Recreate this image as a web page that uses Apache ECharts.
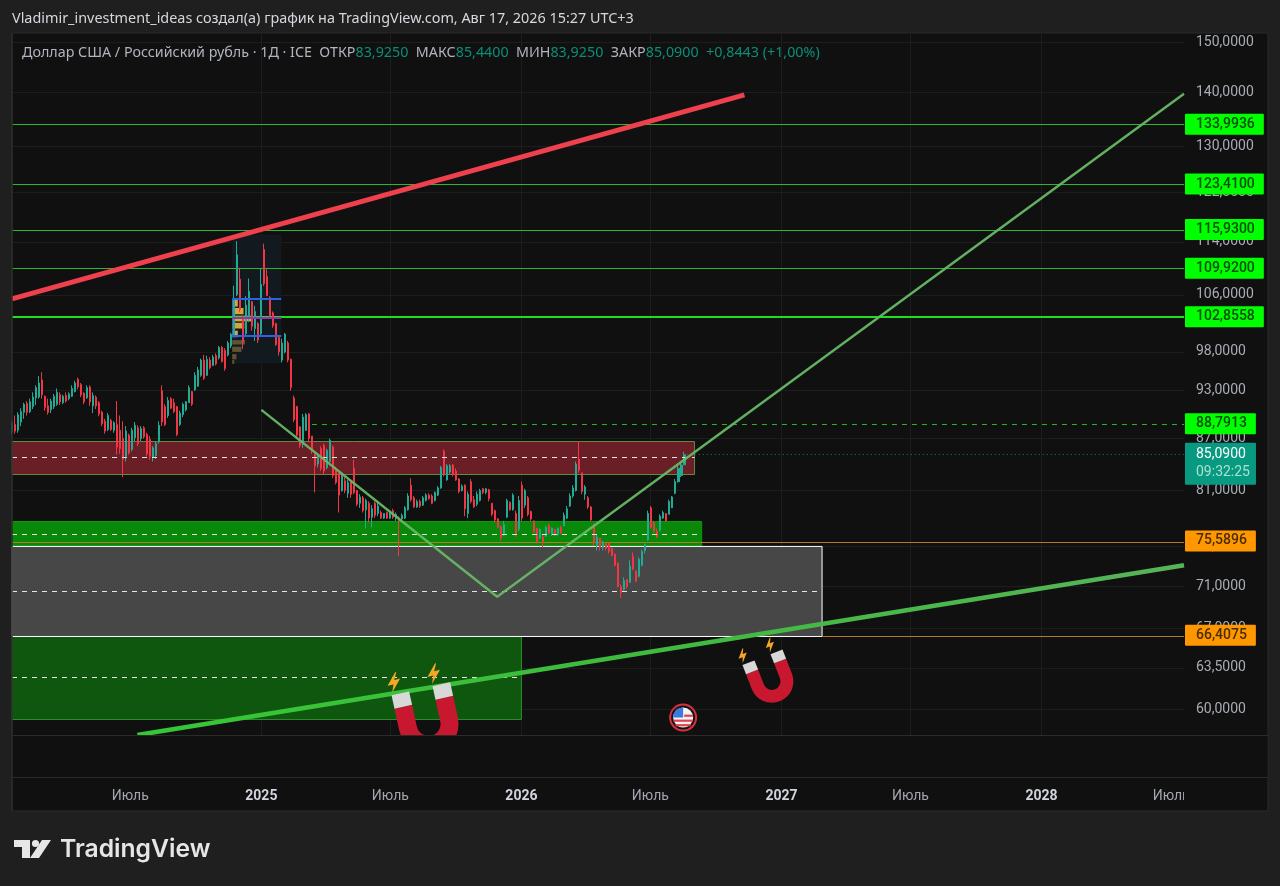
<!DOCTYPE html>
<html><head><meta charset="utf-8">
<style>html,body{margin:0;padding:0;background:#1f1f1f}#c{width:1280px;height:886px}</style>
<script src="https://cdn.jsdelivr.net/npm/echarts@6/dist/echarts.min.js"></script>
</head><body><div id="c"></div>
<script>
const headline = 'Vladimir_investment_ideas создал(а) график на TradingView.com, Авг 17, 2026 15:27 UTC+3';
const axisStart = '2024-01-17', axisEnd = '2028-07-19', zoneStart = '2023-12-20';
const priceMax = 151.87, priceMin = 57.9;
const priceTicks = [150,140,130,122,114,106,98,93,87,81,75,71,67,63.5,60];
const tickDates = ['2024-07-01','2025-01-01','2025-07-01','2026-01-01','2026-07-01','2027-01-01','2027-07-01','2028-01-01','2028-07-01'];
const tickLabels = ['Июль','2025','Июль','2026','Июль','2027','Июль','2028','Июль'];
const firstSession = '2024-01-17', sessionStepDays = 4.2117;
// open, close, low, high
const candles = [
[87.8,88.9,87.5,89.1],[88.7,87.9,87.6,89.8],[88.0,89.9,87.7,90.2],[89.0,90.3,88.5,90.7],[90.2,91.2,89.4,91.4],[91.3,90.2,89.8,91.6],[90.3,91.5,90.1,91.9],[90.9,92.1,90.6,92.7],[92.0,93.3,91.1,93.6],[92.1,93.9,91.9,94.8],
[94.3,92.4,91.9,95.3],[92.2,90.8,90.4,92.3],[91.0,90.2,89.9,91.9],[90.5,91.6,90.1,91.9],[90.9,92.2,90.6,92.5],[91.2,92.7,91.0,93.2],[92.4,91.5,91.1,92.7],[91.4,92.2,91.2,92.4],[92.3,91.6,91.4,92.7],[91.9,92.5,91.7,92.7],
[92.2,93.2,92.1,93.6],[92.8,93.9,92.7,94.2],[94.4,93.4,93.1,94.6],[93.7,92.4,92.1,93.9],[92.6,91.5,91.2,92.7],[92.0,93.3,91.9,93.6],[93.4,91.5,91.0,93.6],[91.0,92.3,90.1,92.7],[92.1,91.0,90.6,92.3],[91.4,90.0,89.7,91.6],
[90.2,88.8,88.5,90.4],[89.1,87.9,87.6,89.4],[88.1,89.8,87.9,90.1],[89.2,88.1,87.9,89.4],[88.0,88.9,87.7,89.1],[88.7,86.0,85.1,91.6],[88.0,85.8,85.2,89.8],[87.0,84.6,82.5,89.1],[84.9,87.9,84.3,88.5],[87.4,85.3,85.1,87.6],
[85.7,88.0,85.5,88.3],[87.1,88.6,86.7,89.0],[88.3,86.4,86.1,88.6],[87.0,88.2,86.7,88.5],[88.3,87.2,87.0,88.5],[87.5,85.2,84.9,87.7],[86.9,84.9,84.5,87.3],[84.8,85.9,84.3,86.1],[85.0,86.4,84.6,86.7],[86.6,88.6,86.4,89.1],
[92.9,89.0,88.5,93.6],[90.9,88.7,88.5,91.2],[89.8,91.7,89.5,92.1],[91.9,90.7,90.6,92.1],[91.4,90.3,90.1,91.9],[90.9,87.5,87.3,91.0],[88.7,90.1,88.5,90.4],[89.9,91.2,89.6,91.4],[90.5,91.5,90.3,91.6],[91.4,93.3,91.4,93.6],
[92.8,91.2,91.0,92.9],[93.0,94.9,92.9,95.3],[93.5,95.6,93.4,96.0],[94.9,96.9,94.7,97.1],[96.9,94.5,94.3,97.6],[94.9,97.0,94.8,97.5],[96.9,95.9,95.7,97.3],[96.2,97.3,96.1,97.6],[97.5,96.4,96.2,97.8],[97.2,98.6,97.0,98.8],
[98.6,96.7,96.6,98.8],[98.2,95.8,95.5,98.5],[97.6,99.2,97.4,99.5],[98.8,100.4,98.5,100.6],[100.3,105.5,100.2,107.3],[106,112,105.8,114.1],[108.3,103.9,103.5,110],[102.6,99.4,98.4,103],[100.5,104.5,100.2,105.8],[102.6,106.5,102.1,108.4],
[105,101.5,100.9,105.1],[101.2,103.6,99.5,104.4],[101.9,99.6,99.2,102.1],[100.5,107.5,100.2,109.9],[112.8,107.6,107.3,113.7],[108.7,105.9,105.8,109.8],[105.6,103.0,102.6,105.8],[103.4,101.6,101.3,103.6],[101.9,99.0,98.8,102.0],[100,98,97.5,100.2],
[96.9,99.2,96.6,99.8],[98,100.4,97.8,100.6],[99.2,96.9,96.6,99.5],[97,93.3,92.9,97.1],[92,89.3,89,92.3],[90.9,87.4,87,91],[88.4,86.2,85.9,88.5],[86.4,89.6,85.9,90],[88,89.9,87.9,90.1],[90,87,86.7,90.1],
[87.3,85.5,85.2,87.3],[85.1,83.8,80.8,85.5],[84,85,83.6,85.3],[85.8,83.5,83.2,86.1],[86.2,83.2,82.8,86.4],[83.6,85.6,83.4,85.8],[84.3,86.8,84.2,87],[86,82.7,82.4,86.2],[83.4,81.9,81.7,83.7],[83,80.5,78.6,83],
[81,82.9,80.9,83],[82.1,81,80.7,82.5],[80.7,81.9,80.2,82.2],[82,80.6,80.2,82.3],[83.5,80.8,80.6,84.5],[81,79.5,79.3,81],[79.6,80.3,79.1,80.6],[80.2,78.8,78.6,80.4],[78.9,79.9,76.9,80.1],[79.6,78,77.5,79.8],
[78.1,79,77,79.4],[79.6,78.3,78,79.8],[78.5,79.3,78.2,79.8],[78.6,78.0,77.9,78.8],[78,78.5,77.9,78.5],[78.6,78,77.9,78.7],[78,78.6,77.9,78.8],[78.8,78.1,77.9,79],[78,78.4,77.7,78.6],[78,77.8,74,78.2],
[77.9,78.3,77.7,78.5],[78,79.1,77.9,79.3],[78.9,80.4,78.8,80.7],[81.6,80,79.8,82.4],[80.2,79.2,79.1,80.4],[79.2,79.8,79.1,80],[79.8,79.3,79.1,80],[79.4,80.2,79.3,80.4],[79.9,80.5,79.8,80.7],[80.5,80.1,80,80.7],
[80.4,79.6,79.5,80.6],[79.9,80.8,79.8,80.9],[80.5,81.3,80.4,81.5],[81.3,83.6,81.2,83.8],[85.5,82.8,82.6,85.7],[82.2,83.8,82.1,84],[83.1,83.8,82.9,84],[83.9,82.8,82.6,84],[83.2,82.2,82.1,83.5],[82.3,80.9,80.7,82.4],
[81,81.5,80.9,81.7],[81.6,79,78.2,81.7],[78.5,80.6,78,80.9],[82,79.8,79.6,82.3],[80,79.2,79.1,80.4],[79.5,80.6,79.3,80.9],[79.9,81,79.8,81.2],[81.2,80.8,80.6,81.3],[80.8,81.2,80.6,81.3],[81.1,80.1,79.8,81.2],
[79.6,78.4,78.2,79.6],[78.8,77.8,77.5,78.9],[77.9,77,76.9,78],[77.1,75.9,75.6,77.2],[76.2,77.3,76.1,77.7],[78.1,79.9,78,80.1],[79.7,78.9,78.8,79.8],[78.9,80.5,78.8,80.7],[78.5,76.3,76,78.8],[76.8,79.9,76.6,80.4],
[81.6,78,77.7,82],[79.4,81,79.1,81.2],[80.2,78.4,78.2,80.4],[78.7,77.9,77.7,78.8],[77.7,76.5,76.4,77.7],[76.9,75.5,75.3,76.9],[75.9,76.8,75.8,76.9],[76,75.5,74.9,76.2],[76.1,77,76,77.2],[77.2,76.4,76.3,77.4],
[76.3,76.9,76.1,77],[76.8,76.2,76.1,76.8],[76.3,76.9,76.1,77],[77,76.4,76.3,77.2],[77.2,78.3,77.1,78.6],[78,79,77.9,79.3],[79.3,80.4,79.2,80.7],[80.4,81.3,80.2,81.6],[81,84,80.9,84.3],[84.6,83.3,83,86.7],
[83,80.9,80.6,83],[80.6,81.4,80,81.6],[80.2,79.2,79,80.4],[79.2,77.8,77.7,79.3],[77.3,75.4,75.1,77.4],[75.2,76,74.6,76.2],[75.9,74.9,74.6,75.9],[74.9,75.4,74.6,75.6],[75.3,74.8,74.6,75.4],[75.4,74.5,74.3,75.4],
[74.8,74.1,74,74.9],[74.2,73.1,73,74.3],[73.3,71,70.9,73.4],[71,70.4,69.9,71.2],[70.7,71.6,70.6,71.9],[71.7,71,70.8,71.7],[71.4,73,71.4,73.6],[74,72.7,72.6,74.4],[72.5,71.5,71.5,72.6],[72,73.7,71.9,73.9],
[73.1,74.5,73,74.7],[74.6,75.2,74.3,75.3],[75.7,78.5,75.6,78.8],[79.1,77,76.9,79.3],[77.5,76.6,76.4,77.7],[76.6,76,75.9,76.9],[76.7,78.2,76.6,78.4],[78,78.6,77.9,78.8],[78.5,77.7,77.6,78.5],[78.4,79.8,78.4,80],
[79.1,80.3,79.1,80.4],[80.7,82,80.6,82.3],[82,83.5,81.9,83.8],[82.7,83.9,82.5,84.2],[83.925,85.09,83.925,85.44]
];
const greenLevels = [133.9936,123.41,115.93,109.92,102.8558];
const dashedLevel = 88.7913, dashedLevelFrom = '2025-03-13';
const orangeLevels = [75.5896,66.4075];
const orangeFrom = ['2024-01-17','2027-02-27'];
const lastClose = 85.09, lastCloseFrom = '2026-08-21', countdown = '09:32:25';
// zones: [right edge date, top, bottom, middle]
const redZone = ['2026-09-01',86.65,82.81,84.77];
const greenZone = ['2026-09-11',77.63,75.02,76.26];
const greyZone = ['2027-02-27',75.02,66.29,70.52];
const darkGreenZone = ['2026-01-01',66.29,59.15,62.65];
const redTrend = [['2024-01-17',105.4],['2026-11-10',139.5]];
const vTrend = [['2025-01-01',90.5],['2025-11-28',70.0],['2028-07-19',139.7]];
const supportTrend = [['2024-07-11',57.9],['2028-07-19',73.1]];
const profileBox = ['2024-11-21','2025-01-29',115.1,96.5];
const profileLines = [105.4,100.2], profilePoc = 102.7;
const profileStart = '2024-11-21', profileBlueEnd = '2024-11-25';
const profileHighs = [105.3,104.1,103.0,102.0,100.9,99.6,98.7,97.7,96.9];
const profileLows = [104.3,103.2,102.2,101.2,100.0,99.0,98.0,97.0,96.4];
const profileEnds = ['2024-11-29','2024-12-07','2024-12-19','2024-12-08','2024-11-29','2024-12-09','2024-12-04','2024-11-27','2024-11-24'];
const magnets = [['2025-08-15',61.1,0.6,12.4],['2026-12-08',64.0,0.43,21.4]];
const flagPoint = ['2026-08-16',59.3];

const tagText = v => v.toFixed(4).replace('.',',');
const ms = d => Date.parse(d + 'T00:00:00Z');
const pts = rows => rows.map(r => [ms(r[0])].concat(r.slice(1)));
const FONT = 'Roboto, "Noto Sans", sans-serif';
const HEAD_FONT = '"Noto Sans", Roboto, sans-serif';
const PLOT_BG = '#101010', GRID = '#1d1d1d';
const tickMs = tickDates.map(ms);

function zoneArea(z, fill, border){
  return [{xAxis: ms(zoneStart), yAxis: z[1], itemStyle:{color:fill,borderColor:border,borderWidth:1,opacity:1}},{xAxis: ms(z[0]), yAxis: z[2]}];
}
function dashMid(z, end){
  return [{coord:[ms(axisStart),z[3]],lineStyle:{color:'#e6e6e6',width:1,type:[5,5]}},{coord:[ms(end||z[0]),z[3]]}];
}
// crisp horizontal level lines, placed by the axis scale
const levelRows = [], levelStyles = [], levelTags = [];
function addLevel(v, from, style, bg, fg){
  levelRows.push([ms(from||axisStart), v]);
  levelStyles.push(style);
  levelTags.push({type:'line',name:'tag '+v,z:2,silent:true,symbol:'none',clip:false,
    data:[[ms(from||axisStart),v],[ms(axisEnd),v]],lineStyle:{width:0,opacity:0},
    endLabel:{show:true,distance:1,formatter:tagText(v),backgroundColor:bg,color:fg,
      fontSize:14,fontFamily:FONT,fontWeight:500,padding:[4,9,3,11],borderRadius:1}});
}
greenLevels.forEach((v,i)=>addLevel(v,null,{stroke:i===4?'#1fe01f':'#2fb52f',lineWidth:i===4?2:1},'#00ff00','#064d06'));
addLevel(dashedLevel,dashedLevelFrom,{stroke:'#22b822',lineWidth:1,lineDash:[5,5]},'#00ff00','#064d06');
orangeLevels.forEach((v,i)=>addLevel(v,orangeFrom[i],{stroke:'#b57a25',lineWidth:1},'#ff9800','#4a2c00'));
levelRows.push([ms(lastCloseFrom),lastClose]);
levelStyles.push({stroke:'#0c7f6d',lineWidth:1,lineDash:[1,3]});
levelTags.push({type:'line',name:'last close',z:2,silent:true,symbol:'none',clip:false,
  data:[[ms(lastCloseFrom),lastClose],[ms(axisEnd),lastClose]],lineStyle:{width:0,opacity:0},
  endLabel:{show:true,distance:1,offset:[0,9],backgroundColor:'#089981',padding:[3,6,3,11],borderRadius:1,
    formatter:'{a|'+tagText(lastClose)+'}\n{b|'+countdown+'}',
    rich:{a:{color:'#ffffff',fontSize:14,fontFamily:FONT,lineHeight:18},b:{color:'#a9e0d4',fontSize:14,fontFamily:FONT,lineHeight:18}}}});
function renderLevel(params, api){
  const a = api.coord([api.value(0), api.value(1)]);
  const b = api.coord([ms(axisEnd), api.value(1)]);
  const st = levelStyles[params.dataIndex];
  const y = st.lineWidth === 2 ? Math.round(a[1]) : Math.round((a[1] + 0.2) / 2) * 2 + 0.5;
  return {type:'line',shape:{x1:a[0],y1:y,x2:b[0],y2:y},style:Object.assign({},st)};
}

const profileAreas = [];
profileLows.forEach((lo,i)=>{
  profileAreas.push([{xAxis:ms(profileStart),yAxis:profileHighs[i],itemStyle:{color:i<5?'#d3a53a':'#5f5330',borderWidth:0}},{xAxis:ms(profileEnds[i]),yAxis:lo}]);
});
profileAreas.push([{xAxis:ms(profileStart),yAxis:profileHighs[0],itemStyle:{color:'#2f62d8',borderWidth:0}},{xAxis:ms(profileBlueEnd),yAxis:profileLows[4]}]);

const boltPts = [[6,-16],[-11,3],[-1,3],[-6,16],[12,-4],[2,-4],[8,-16]];
function renderMagnet(params, api){
  const p = api.coord([api.value(0), api.value(1)]);
  const s = api.value(2), r = api.value(3)*Math.PI/180;
  const bolt = (dx,dy)=>({type:'polygon',x:dx,y:dy,shape:{points:boltPts},style:{fill:'#f6a623'}});
  return {type:'group',x:p[0],y:p[1],rotation:r,scaleX:s,scaleY:s,children:[
    {type:'path',shape:{pathData:'M-50 11 L-20 11 L-20 48 A20 20 0 0 0 20 48 L20 11 L50 11 L50 48 A50 50 0 0 1 -50 48 Z',x:-50,y:11,width:100,height:87,layout:'cover'},style:{fill:'#c8182f'}},
    {type:'rect',shape:{x:-50,y:-12,width:30,height:23},style:{fill:'#d8d8d8'}},
    {type:'rect',shape:{x:20,y:-12,width:30,height:23},style:{fill:'#d8d8d8'}},
    bolt(-42,-32),bolt(26,-32)
  ]};
}
function renderFlag(params, api){
  const p = api.coord([api.value(0), api.value(1)]);
  return {type:'group',x:p[0],y:p[1],children:[
    {type:'circle',shape:{cx:0,cy:0,r:14},style:{fill:'#d9303f'}},
    {type:'circle',shape:{cx:0,cy:0,r:12},style:{fill:'#141414'}},
    {type:'circle',shape:{cx:0,cy:0,r:10},style:{fill:'#f4f4f4'}},
    {type:'path',shape:{pathData:'M-9.6 -3 A10 10 0 0 1 0 -10 L0 0 L-10 0 Z',x:-10,y:-10,width:10,height:10,layout:'cover'},style:{fill:'#3b7be0'}},
    {type:'rect',shape:{x:1,y:-3,width:8.8,height:2.2},style:{fill:'#e0434f'}},
    {type:'rect',shape:{x:-9.5,y:2,width:19,height:2.2},style:{fill:'#e0434f'}},
    {type:'rect',shape:{x:-7.5,y:6.5,width:15,height:2.2},style:{fill:'#e0434f'}}
  ]};
}

const chart = echarts.init(document.getElementById('c'),null,{renderer:'canvas'});
chart.setOption({
  backgroundColor:'#1f1f1f',
  animation:false,
  grid:{left:12,right:96,top:33,bottom:151,show:false},
  xAxis:{type:'value',min:ms(axisStart),max:ms(axisEnd),scale:true,
    axisLine:{show:false},axisTick:{show:false,customValues:tickMs},
    splitLine:{show:true,lineStyle:{color:GRID,width:1},showMinLine:false,showMaxLine:false},
    axisLabel:{customValues:tickMs,margin:54,hideOverlap:false,showMinLabel:true,showMaxLabel:true,
      formatter:function(v){const t=tickLabels[tickMs.indexOf(+v)];return /\d/.test(t)?'{y|'+t+'}':'{m|'+t+'}';},
      rich:{y:{color:'#d1d4dc',fontWeight:'bold',fontSize:14,fontFamily:FONT},m:{color:'#a3a6af',fontSize:14,fontFamily:FONT}}},
  },
  yAxis:{type:'log',logBase:10,min:priceMin,max:priceMax,position:'right',
    axisLine:{show:false},axisTick:{show:false,customValues:priceTicks},minorTick:{show:false},minorSplitLine:{show:false},
    splitLine:{show:true,lineStyle:{color:GRID,width:1}},
    axisLabel:{customValues:priceTicks,inside:false,margin:12,color:'#a9acb5',fontSize:14,fontFamily:FONT,align:'left',
      formatter:function(v){return tagText(+v);},hideOverlap:false,showMinLabel:true,showMaxLabel:true}
  },
  series:[
    {type:'line',name:'zones',data:[],z:1,silent:true,
      markArea:{silent:true,clip:true,data:[
        [{xAxis:ms(profileBox[0]),yAxis:profileBox[2],itemStyle:{color:'#121a20',borderWidth:0}},{xAxis:ms(profileBox[1]),yAxis:profileBox[3]}],
        zoneArea(redZone,'#6a1f26','#5f8a3f'),
        zoneArea(greenZone,'#0a880a','#0a9a0a'),
        zoneArea(darkGreenZone,'#0f560f','#2f8f2f'),
        zoneArea(greyZone,'#474747','#ffffff'),
        ...profileAreas
      ]},
      markLine:{silent:true,symbol:'none',label:{show:false},data:[
        dashMid(redZone),dashMid(greenZone),dashMid(greyZone),dashMid(darkGreenZone,'2025-12-26')
      ]}
    },
    {type:'custom',name:'levels',z:2,silent:true,clip:true,data:levelRows,encode:{x:0,y:1},renderItem:renderLevel},
    ...levelTags,
    {type:'candlestick',name:'USD/RUB',z:3,silent:true,barWidth:2.2,
      data:candles.map((c,i)=>[ms(firstSession)+i*sessionStepDays*86400000,c[0],c[1],c[2],c[3]]),
      encode:{x:0,y:[1,2,3,4]},
      itemStyle:{color:'#22ab94',color0:'#f23645',borderColor:'#22ab94',borderColor0:'#f23645',borderWidth:1}},
    {type:'line',name:'profile',data:[],z:4,silent:true,
      markLine:{silent:true,symbol:'none',label:{show:false},data:[
        ...profileLines.map(v=>[{coord:[ms(profileBox[0]),v],lineStyle:{color:'#2a63e6',width:2,type:'solid'}},{coord:[ms(profileBox[1]),v]}]),
        [{coord:[ms(profileBox[0]),profilePoc],lineStyle:{color:'#a02bb8',width:2,type:'solid'}},{coord:[ms(profileBox[1]),profilePoc]}]
      ]}},
    {type:'line',name:'red trend',data:pts(redTrend),z:5,symbol:'none',silent:true,lineStyle:{color:'#ee404d',width:5}},
    {type:'line',name:'v trend',data:pts(vTrend),z:5,symbol:'none',silent:true,lineStyle:{color:'#66b866',width:2.5,opacity:.95}},
    {type:'line',name:'support',data:pts(supportTrend),z:5,symbol:'none',silent:true,
      lineStyle:{width:4.5,color:new echarts.graphic.LinearGradient(0,0,1,0,[{offset:0,color:'#35c835'},{offset:.45,color:'#3dbb3d'},{offset:1,color:'#58b358'}])}},
    {type:'custom',name:'magnets',z:6,silent:true,clip:false,data:pts(magnets),encode:{x:0,y:1},renderItem:renderMagnet},
    {type:'custom',name:'event',z:6,silent:true,clip:false,data:pts([flagPoint]),encode:{x:0,y:1},renderItem:renderFlag}
  ],
  graphic:[
    {type:'rect',z:-10,silent:true,shape:{x:12,y:33,width:1256,height:778},style:{fill:PLOT_BG,stroke:'#2b2b2b',lineWidth:1}},
    {type:'rect',z:50,silent:true,shape:{x:12.5,y:736,width:1255,height:41},style:{fill:PLOT_BG}},
    {type:'rect',z:50,silent:true,shape:{x:1184,y:779,width:83,height:31},style:{fill:PLOT_BG}},
    {type:'line',z:51,silent:true,shape:{x1:12,y1:735.5,x2:1268,y2:735.5},style:{stroke:'#2b2b2b',lineWidth:1}},
    {type:'line',z:51,silent:true,shape:{x1:12,y1:777.5,x2:1268,y2:777.5},style:{stroke:'#2b2b2b',lineWidth:1}},
    {type:'line',z:51,silent:true,shape:{x1:12,y1:33,x2:12,y2:811},style:{stroke:'#2b2b2b',lineWidth:1.5}},
    {type:'text',z:60,silent:true,x:12,y:19,style:{text:headline,fill:'#d6d8de',font:'14.4px '+HEAD_FONT,textVerticalAlign:'middle'}},
    {type:'text',z:60,silent:true,x:22,y:53,style:{
      text:'Доллар США / Российский рубль · 1Д · ICE  ОТКР{v|83,9250}  МАКС{v|85,4400}  МИН{v|83,9250}  ЗАКР{v|85,0900}  {v|+0,8443 (+1,00%)}',
      fill:'#b2b5be',font:'14.3px '+HEAD_FONT,textVerticalAlign:'middle',rich:{v:{fill:'#0a8f79',font:'14.3px '+HEAD_FONT}}}},
    {type:'polygon',z:60,silent:true,shape:{points:[[14,840],[30,840],[30,858],[22,858],[22,847],[14,847]]},style:{fill:'#e6e6e6'}},
    {type:'circle',z:60,silent:true,shape:{cx:35.5,cy:843.5,r:3.6},style:{fill:'#e6e6e6'}},
    {type:'polygon',z:60,silent:true,shape:{points:[[42,840],[51,840],[39,858],[30,858]]},style:{fill:'#e6e6e6'}},
    {type:'text',z:60,silent:true,x:60,y:850,style:{text:'TradingView',fill:'#e6e6e6',font:'600 24.7px Inter, '+FONT,textVerticalAlign:'middle'}}
  ]
});
</script></body></html>
